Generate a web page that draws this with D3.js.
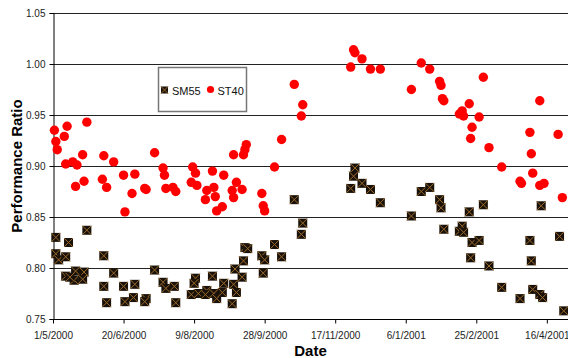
<!DOCTYPE html>
<html><head><meta charset="utf-8">
<script src="https://cdn.jsdelivr.net/npm/d3@7"></script>
<style>
html,body{margin:0;padding:0;background:#fff;}
svg{display:block;font-family:"Liberation Sans",Arial,sans-serif;}
</style></head>
<body>
<svg id="chart" width="568" height="358"></svg>
<script>
// ---- data ----
const seriesNames = ["SM55", "ST40"];
const yTicks = [0.75, 0.80, 0.85, 0.90, 0.95, 1.00, 1.05];
const xTickLabels = ["2000-05-01","2000-06-20","2000-08-09","2000-09-28","2000-11-17","2001-01-06","2001-02-25","2001-04-16"];
const xDomain = ["2000-05-01", "2001-05-01"];

const sm55Dates = ["2000-05-03","2000-05-25","2000-05-12","2000-05-03","2000-05-05","2000-05-10","2000-06-06","2000-05-10","2000-05-17","2000-05-16","2000-05-23","2000-05-22","2000-05-13","2000-06-13","2000-07-12","2000-06-06","2000-06-20","2000-06-28","2000-07-18","2000-07-20","2000-07-26","2000-06-08","2000-06-21","2000-06-27","2000-07-06","2000-07-05","2000-07-27","2000-08-10","2000-08-09","2000-08-07","2000-08-12","2000-08-18","2000-08-17","2000-08-23","2000-08-25","2000-08-29","2000-08-22","2000-08-30","2000-09-06","2000-09-08","2000-09-05","2000-09-12","2000-09-07","2000-09-13","2000-09-14","2000-09-16","2000-09-26","2000-09-28","2000-09-27","2000-10-05","2000-10-10","2000-10-19","2000-10-25","2000-10-24","2000-12-01","2000-11-30","2000-11-28","2000-12-06","2000-12-12","2000-12-19","2001-01-17","2001-01-23","2001-01-30","2001-01-31","2001-01-10","2001-02-02","2001-02-20","2001-03-02","2001-02-15","2001-02-13","2001-02-16","2001-02-22","2001-02-27","2001-02-21","2001-03-06","2001-03-15","2001-03-28","2001-04-06","2001-04-11","2001-04-13","2001-04-04","2001-04-05","2001-04-12","2001-04-25","2001-04-28"];
const sm55Values = [0.830,0.837,0.825,0.814,0.808,0.811,0.812,0.792,0.797,0.788,0.796,0.789,0.791,0.795,0.798,0.782,0.782,0.784,0.786,0.780,0.782,0.766,0.767,0.771,0.770,0.767,0.766,0.790,0.785,0.774,0.775,0.778,0.774,0.775,0.770,0.776,0.792,0.785,0.784,0.776,0.765,0.791,0.799,0.807,0.820,0.819,0.812,0.808,0.795,0.823,0.811,0.867,0.844,0.833,0.898,0.890,0.878,0.883,0.877,0.864,0.875,0.879,0.867,0.859,0.851,0.838,0.855,0.862,0.841,0.836,0.835,0.825,0.827,0.810,0.802,0.781,0.770,0.779,0.774,0.771,0.827,0.807,0.861,0.831,0.758];

const st40Dates = ["2000-05-02","2000-05-03","2000-05-04","2000-05-09","2000-05-11","2000-05-10","2000-05-15","2000-05-18","2000-05-22","2000-05-25","2000-06-06","2000-06-13","2000-07-12","2000-07-18","2000-07-19","2000-06-20","2000-06-28","2000-05-23","2000-05-17","2000-06-05","2000-06-08","2000-06-26","2000-07-05","2000-07-06","2000-07-20","2000-07-25","2000-07-27","2000-06-21","2000-08-08","2000-08-10","2000-08-22","2000-08-30","2000-08-07","2000-08-11","2000-09-08","2000-08-23","2000-08-18","2000-09-05","2000-09-12","2000-09-26","2000-08-17","2000-08-24","2000-09-06","2000-09-27","2000-09-28","2000-08-29","2000-08-25","2000-09-15","2000-09-14","2000-09-06","2000-09-13","2000-10-05","2000-10-10","2000-10-24","2000-10-25","2000-10-19","2000-11-30","2000-12-01","2000-12-06","2000-11-28","2000-12-12","2000-12-19","2001-01-17","2001-01-23","2001-01-10","2001-01-30","2001-01-31","2001-02-01","2001-02-02","2001-03-02","2001-04-11","2001-02-20","2001-02-15","2001-02-13","2001-02-16","2001-02-27","2001-02-22","2001-02-21","2001-04-04","2001-04-24","2001-03-06","2001-04-05","2001-03-15","2001-04-06","2001-03-28","2001-03-29","2001-04-11","2001-04-14","2001-04-27"];
const st40Values = [0.935,0.924,0.916,0.929,0.939,0.902,0.904,0.901,0.911,0.943,0.910,0.904,0.913,0.898,0.891,0.891,0.892,0.885,0.880,0.887,0.879,0.873,0.878,0.877,0.878,0.879,0.875,0.855,0.899,0.893,0.895,0.891,0.884,0.881,0.884,0.879,0.876,0.876,0.877,0.873,0.867,0.870,0.869,0.861,0.856,0.860,0.856,0.921,0.916,0.911,0.911,0.899,0.926,0.949,0.960,0.980,1.014,1.011,1.005,0.997,0.995,0.995,1.001,0.995,0.975,0.983,0.979,0.966,0.964,0.987,0.964,0.961,0.954,0.951,0.949,0.948,0.938,0.927,0.933,0.931,0.918,0.912,0.899,0.893,0.885,0.883,0.881,0.883,0.869];

// ---- chart ----
const parse = d3.utcParse("%Y-%m-%d");
const svg = d3.select("#chart");
const pLeft = 53, pRight = 568, pTop = 13, pBottom = 319;

const x = d3.scaleUtc().domain(xDomain.map(parse)).range([pLeft, pRight]);
const y = d3.scaleLinear().domain([0.75, 1.05]).range([pBottom, pTop]);

// gridlines
svg.append("g").selectAll("line").data(yTicks.slice(1)).join("line")
  .attr("x1", pLeft).attr("x2", pRight)
  .attr("y1", d => Math.round(y(d)) + 0.5).attr("y2", d => Math.round(y(d)) + 0.5)
  .attr("stroke", "#222").attr("stroke-width", 1);

// y axis
const yAxis = d3.axisLeft(y).tickValues(yTicks).tickFormat(d3.format(".2f")).tickSize(4).tickPadding(4);
const gy = svg.append("g").attr("transform", `translate(${pLeft + 0.5},0)`).call(yAxis);
gy.select(".domain").attr("stroke", "#000");
gy.selectAll(".tick line").attr("stroke", "#000");
gy.selectAll("text").attr("font-size", 10).attr("fill", "#222").attr("font-family", "Liberation Sans, Arial, sans-serif");

// x axis
const xAxis = d3.axisBottom(x).tickValues(xTickLabels.map(parse)).tickFormat(d3.utcFormat("%-d/%-m/%Y")).tickSize(4).tickPadding(8);
const gx = svg.append("g").attr("transform", `translate(0,${pBottom + 0.5})`).call(xAxis);
gx.select(".domain").attr("stroke", "#000").attr("d", `M${pLeft},0H${pRight}`);
gx.selectAll(".tick line").attr("stroke", "#000");
gx.selectAll("text").attr("font-size", 10).attr("fill", "#222").attr("font-family", "Liberation Sans, Arial, sans-serif");

// axis titles
svg.append("text").attr("x", (pLeft + pRight) / 2).attr("y", 356)
  .attr("text-anchor", "middle").attr("font-size", 15).attr("font-weight", "bold").text("Date");
svg.append("text").attr("transform", `translate(22,${(pTop + pBottom) / 2}) rotate(-90)`)
  .attr("text-anchor", "middle").attr("font-size", 15).attr("font-weight", "bold").text("Performance Ratio");

// marker helpers
function squareX(g, cx, cy, s) {
  g.append("rect").attr("x", cx - s / 2).attr("y", cy - s / 2).attr("width", s).attr("height", s).attr("fill", "#1a1208");
  g.append("path").attr("d", `M${cx - s / 2},${cy - s / 2}L${cx + s / 2},${cy + s / 2}M${cx + s / 2},${cy - s / 2}L${cx - s / 2},${cy + s / 2}`)
    .attr("stroke", "#9a6a2e").attr("stroke-width", 1).attr("fill", "none");
}

const sm55 = sm55Dates.map((d, i) => ({ date: parse(d), value: sm55Values[i] }));
const st40 = st40Dates.map((d, i) => ({ date: parse(d), value: st40Values[i] }));

const gSm = svg.append("g");
sm55.forEach(d => squareX(gSm, x(d.date), y(d.value), 9));

svg.append("g").selectAll("circle").data(st40).join("circle")
  .attr("cx", d => x(d.date)).attr("cy", d => y(d.value)).attr("r", 4.7).attr("fill", "#ff0000");

// legend
const lg = svg.append("g");
lg.append("rect").attr("x", 158.5).attr("y", 67.5).attr("width", 88).attr("height", 44)
  .attr("fill", "#fff").attr("stroke", "#777").attr("stroke-width", 1.5);
squareX(lg, 164.5, 90, 7);
lg.append("text").attr("x", 172).attr("y", 94.5).attr("font-size", 11).attr("fill", "#111").text(seriesNames[0]);
lg.append("circle").attr("cx", 210.5).attr("cy", 89.5).attr("r", 3.6).attr("fill", "#ff0000");
lg.append("text").attr("x", 217.5).attr("y", 94.5).attr("font-size", 11).attr("fill", "#111").text(seriesNames[1]);
</script>
</body></html>
